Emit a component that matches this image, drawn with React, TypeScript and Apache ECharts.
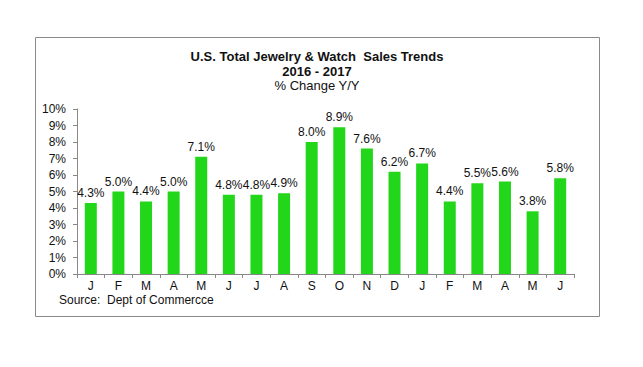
import React, { useEffect, useRef } from "react";
import * as echarts from "echarts";

const months = ["J", "F", "M", "A", "M", "J", "J", "A", "S", "O", "N", "D", "J", "F", "M", "A", "M", "J"];
const changes = [4.3, 5.0, 4.4, 5.0, 7.1, 4.8, 4.8, 4.9, 8.0, 8.9, 7.6, 6.2, 6.7, 4.4, 5.5, 5.6, 3.8, 5.8];
const titleLines = ["U.S. Total Jewelry & Watch  Sales Trends", "2016 - 2017", "% Change Y/Y"];
const sourceText = "Source:  Dept of Commercce";

const FONT = "'Liberation Sans', Arial, sans-serif";

export default function App() {
  const ref = useRef<HTMLDivElement>(null);
  useEffect(() => {
    document.body.style.margin = "0";
    const chart = echarts.init(ref.current!, null, { renderer: "svg" });
    chart.setOption({
      animation: false,
      backgroundColor: "#ffffff",
      textStyle: { fontFamily: FONT },
      graphic: [
        {
          type: "rect",
          shape: { x: 35.5, y: 37.5, width: 564, height: 279 },
          style: { fill: "none", stroke: "#8a8a8a", lineWidth: 1 },
          silent: true,
        },
        {
          type: "text",
          x: 317, y: 56,
          style: { text: titleLines[0], fontFamily: FONT, fontSize: 13, fontWeight: "bold", fill: "#111", textAlign: "center", textVerticalAlign: "middle" },
        },
        {
          type: "text",
          x: 317, y: 71,
          style: { text: titleLines[1], fontFamily: FONT, fontSize: 13, fontWeight: "bold", fill: "#111", textAlign: "center", textVerticalAlign: "middle" },
        },
        {
          type: "text",
          x: 317, y: 85,
          style: { text: titleLines[2], fontFamily: FONT, fontSize: 13, fill: "#111", textAlign: "center", textVerticalAlign: "middle" },
        },
        {
          type: "text",
          x: 59, y: 300,
          style: { text: sourceText, fontFamily: FONT, fontSize: 12, lineHeight: 12, fill: "#111", textAlign: "left", textVerticalAlign: "middle" },
        },
      ],
      grid: { left: 77, right: 69, top: 109, bottom: 93, containLabel: false },
      xAxis: {
        type: "category",
        data: months,
        axisLine: { show: true, lineStyle: { color: "#888", width: 1 } },
        axisTick: { show: true, alignWithLabel: false, length: 4, lineStyle: { color: "#888" } },
        axisLabel: { color: "#111", fontSize: 12, lineHeight: 12, fontFamily: FONT, margin: 6, interval: 0 },
      },
      yAxis: {
        type: "value",
        min: 0,
        max: 10,
        interval: 1,
        splitLine: { show: false },
        axisLine: { show: true, lineStyle: { color: "#888", width: 1 } },
        axisTick: { show: true, length: 4, lineStyle: { color: "#888" } },
        axisLabel: { color: "#111", fontSize: 12, fontFamily: FONT, formatter: "{value}%", margin: 11 },
      },
      series: [
        {
          type: "bar",
          data: changes,
          barWidth: 12,
          itemStyle: { color: "#22d619" },
          label: {
            show: true,
            position: "top",
            distance: 4,
            color: "#111",
            fontSize: 12,
            fontFamily: FONT,
            formatter: (p: any) => `${Number(p.value).toFixed(1)}%`,
          },
        },
      ],
    });
    return () => chart.dispose();
  }, []);
  return <div ref={ref} style={{ width: 643, height: 367 }} />;
}
